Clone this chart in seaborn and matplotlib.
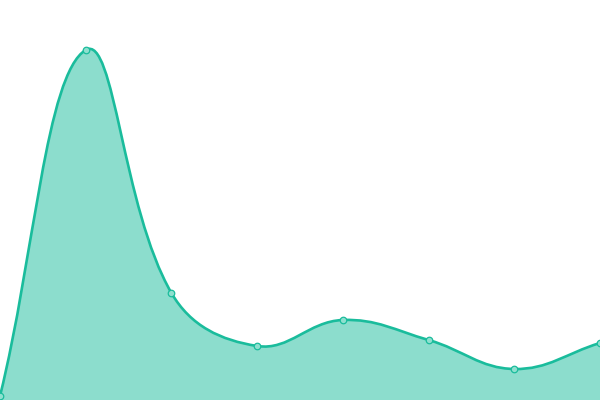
import numpy as np
import pandas as pd
import seaborn as sns
import matplotlib
matplotlib.use("Agg")
import matplotlib.pyplot as plt
from matplotlib.path import Path
from matplotlib.patches import PathPatch

# values (y axis runs 0..400, no visible axes)
steps = [0, 1, 2, 3, 4, 5, 6, 7]
values = [4, 350, 107, 54, 80, 60, 31, 57]

line_color = "#1abc9c"
fill_color = (26 / 255, 188 / 255, 156 / 255, 0.5)
tension = 0.4

sns.set_style("white")

fig = plt.figure(figsize=(6, 4), dpi=100)
ax = fig.add_axes([0, 0, 1, 1])
ax.set_xlim(0, 7)
ax.set_ylim(0, 400)
ax.axis("off")

df = pd.DataFrame({"step": steps, "value": values})

# smooth spline through the points (distance weighted, like Chart.js)
pts = ax.transData.transform(np.column_stack([df["step"], df["value"]]))
n = len(pts)
verts = [pts[0]]
codes = [Path.MOVETO]
ctrl_prev = []
ctrl_next = []
for i in range(n):
    p0 = pts[max(i - 1, 0)]
    p1 = pts[i]
    p2 = pts[min(i + 1, n - 1)]
    d01 = np.hypot(*(p1 - p0))
    d12 = np.hypot(*(p2 - p1))
    tot = d01 + d12
    s01 = d01 / tot if tot else 0
    s12 = d12 / tot if tot else 0
    ctrl_prev.append(p1 - tension * s01 * (p2 - p0))
    ctrl_next.append(p1 + tension * s12 * (p2 - p0))
for i in range(n - 1):
    verts += [ctrl_next[i], ctrl_prev[i + 1], pts[i + 1]]
    codes += [Path.CURVE4] * 3

inv = ax.transData.inverted()
curve = inv.transform(np.array(verts))

base = ax.transData.transform([[7, 0], [0, 0]])
fill_verts = list(curve) + list(inv.transform(base)) + [curve[0]]
fill_codes = codes + [Path.LINETO, Path.LINETO, Path.CLOSEPOLY]
ax.add_patch(PathPatch(Path(fill_verts, fill_codes), facecolor=fill_color,
                       edgecolor="none", zorder=1))
ax.add_patch(PathPatch(Path(curve, codes), facecolor="none",
                       edgecolor=line_color, linewidth=1.9, zorder=2,
                       capstyle="round", joinstyle="round"))

sns.scatterplot(data=df, x="step", y="value", ax=ax, s=22,
                color="#8fe0cf", edgecolor=line_color, linewidth=0.9,
                zorder=3, clip_on=True, legend=False)

ax.set_xlim(0, 7)
ax.set_ylim(0, 400)
fig.savefig("out.png", dpi=100)
